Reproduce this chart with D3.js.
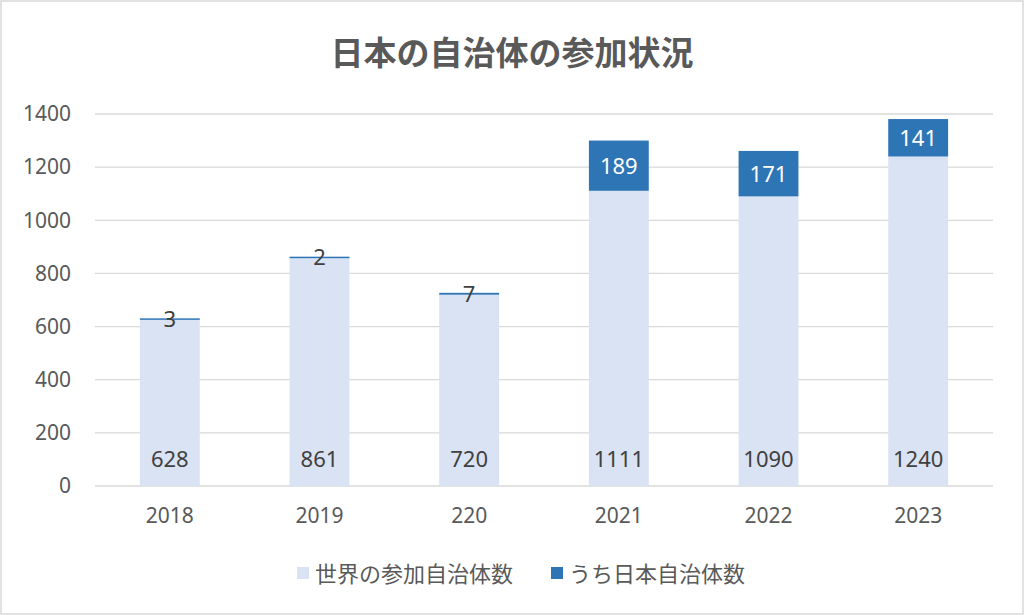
<!DOCTYPE html>
<html>
<head>
<meta charset="utf-8">
<script src="https://cdn.jsdelivr.net/npm/d3@7"></script>
<style>
  body { margin: 0; background: #fff; }
  svg { display: block; }
</style>
</head>
<body>
<div id="chart"></div>
<script>
var years = ["2018", "2019", "220", "2021", "2022", "2023"]
var worldCounts = [628, 861, 720, 1111, 1090, 1240]
var japanCounts = [3, 2, 7, 189, 171, 141]
var yTicks = [0, 200, 400, 600, 800, 1000, 1200, 1400]
var seriesNames = ["世界の参加自治体数", "うち日本自治体数"]
var seriesColors = ["#dae3f3", "#2e75b6"]

var width = 1024
var height = 615
var margin = { top: 114, right: 31, bottom: 129, left: 95 }
var numFont = "'Noto Sans', 'Liberation Sans', sans-serif"
var cjkFont = "'Noto Sans CJK JP', sans-serif"

var svg = d3.select("#chart").append("svg")
   .attr("width", width)
   .attr("height", height)

// outer frame
svg.append("rect")
   .attr("x", 1).attr("y", 1)
   .attr("width", width - 2).attr("height", height - 2)
   .attr("fill", "#fff")
   .attr("stroke", "#d9d9d9")
   .attr("stroke-width", 1.5)

svg.append("text")
   .text("日本の自治体の参加状況")
   .attr("x", width / 2)
   .attr("y", 65)
   .attr("text-anchor", "middle")
   .attr("font-family", cjkFont)
   .attr("font-weight", "bold")
   .attr("font-size", 33)
   .attr("fill", "#595959")

var x = d3.scaleBand()
   .domain(years)
   .range([margin.left, width - margin.right])
   .paddingInner(0.6)
   .paddingOuter(0.3)

var y = d3.scaleLinear()
   .domain([0, 1400])
   .range([height - margin.bottom, margin.top])

// gridlines
svg.append("g").selectAll("line")
   .data(yTicks)
   .enter().append("line")
      .attr("x1", margin.left)
      .attr("x2", width - margin.right)
      .attr("y1", function(d) { return y(d) })
      .attr("y2", function(d) { return y(d) })
      .attr("stroke", "#d9d9d9")
      .attr("stroke-width", 1.3)

// y axis labels
var yAxis = svg.append("g")
   .attr("transform", "translate(" + (margin.left - 24) + ",0)")
   .call(d3.axisLeft(y).tickValues(yTicks).tickFormat(d3.format("d")).tickSize(0).tickPadding(0))
yAxis.select(".domain").remove()
yAxis.selectAll("text")
   .attr("font-family", numFont)
   .attr("font-size", 21)
   .attr("fill", "#595959")

// x axis labels
var xAxis = svg.append("g")
   .attr("transform", "translate(0," + (height - margin.bottom) + ")")
   .call(d3.axisBottom(x).tickSize(0).tickPadding(22))
xAxis.select(".domain").remove()
xAxis.selectAll("text")
   .attr("font-family", numFont)
   .attr("font-size", 21)
   .attr("fill", "#595959")

var rows = years.map(function(yr, i) {
   return { year: yr, world: worldCounts[i], japan: japanCounts[i] }
})

var stack = d3.stack().keys(["world", "japan"])(rows)

var layers = svg.append("g").selectAll("g")
   .data(stack)
   .enter().append("g")
      .attr("fill", function(d, i) { return seriesColors[i] })

layers.selectAll("rect")
   .data(function(d) { return d })
   .enter().append("rect")
      .attr("x", function(d) { return x(d.data.year) })
      .attr("width", x.bandwidth())
      .attr("y", function(d) { return y(d[1]) })
      .attr("height", function(d) { return Math.max(1.5, y(d[0]) - y(d[1])) })

// world labels near the base
svg.append("g").selectAll("text")
   .data(rows)
   .enter().append("text")
      .text(function(d) { return d.world })
      .attr("x", function(d) { return x(d.year) + x.bandwidth() / 2 })
      .attr("y", y(0) - 19)
      .attr("text-anchor", "middle")
      .attr("font-family", numFont)
      .attr("font-size", 22)
      .attr("fill", "#404040")

// japan labels centred on their segment
svg.append("g").selectAll("text")
   .data(rows)
   .enter().append("text")
      .text(function(d) { return d.japan })
      .attr("x", function(d) { return x(d.year) + x.bandwidth() / 2 })
      .attr("y", function(d) { return y(d.world + d.japan / 2) + 8 })
      .attr("text-anchor", "middle")
      .attr("font-family", numFont)
      .attr("font-size", 22)
      .attr("fill", function(d) { return d.japan > 50 ? "#ffffff" : "#404040" })

// legend
var legendX = [297, 551]
var legend = svg.append("g").selectAll("g")
   .data(seriesNames)
   .enter().append("g")
      .attr("transform", function(d, i) { return "translate(" + legendX[i] + ",567)" })

legend.append("rect")
   .attr("width", 12).attr("height", 12)
   .attr("fill", function(d, i) { return seriesColors[i] })

legend.append("text")
   .text(function(d) { return d })
   .attr("x", 18)
   .attr("y", 15)
   .attr("font-family", cjkFont)
   .attr("font-size", 22)
   .attr("fill", "#595959")
</script>
</body>
</html>
